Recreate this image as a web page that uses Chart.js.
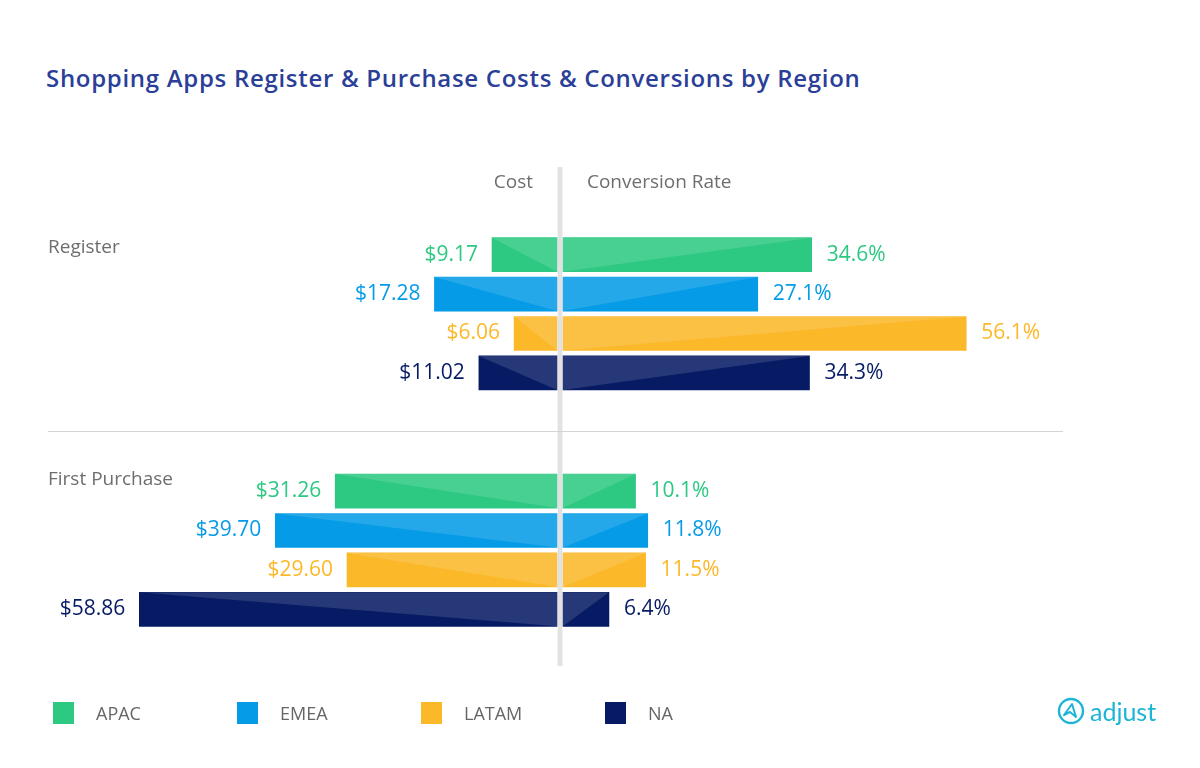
<!DOCTYPE html>
<html>
  <head>
    <title>Shopping Apps Register & Purchase Costs & Conversions by Region</title>
    <script src="https://cdn.jsdelivr.net/npm/chart.js@4.4.0/dist/chart.umd.min.js"></script>
    <style>
    body{
      margin: 0;
      background-color: white;
      font-family: "Open Sans", sans-serif;
    }
    #wrap{ position: relative; width: 1200px; height: 768px; overflow: hidden; }
    #butterfly{ position: absolute; left: 0; top: 0; }
    #title{
      position: absolute; left: 46px; top: 61px;
      font-size: 24px; font-weight: 600; letter-spacing: 0.7px; color: #2b3f99; white-space: nowrap;
    }
    #legend{ position: absolute; left: 53px; top: 701px; display: flex; }
    #legend .item{ width: 184px; display: flex; align-items: center; font-size: 18px; color: #666; }
    #legend .box{ width: 21px; height: 22px; margin-right: 22px; }
    #logo{
      position: absolute; left: 1057px; top: 696px; display: flex; align-items: center;
      color: #1cb5d5; font-family: Lato, sans-serif; font-size: 25px;
    }
    #logo svg{ margin-right: 5px; }
    </style>
  </head>
  <body>
    <div id="wrap">
      <div id="title">Shopping Apps Register &amp; Purchase Costs &amp; Conversions by Region</div>
      <canvas id="butterfly" width="1200" height="768"></canvas>
      <div id="legend"></div>
      <div id="logo">
        <svg width="28" height="28" viewBox="0 0 28 28">
          <circle cx="14" cy="14" r="12" fill="none" stroke="#1cb5d5" stroke-width="2.4"/>
          <path d="M7 18 L15 7 L19 20 L13 15 Z" fill="none" stroke="#1cb5d5" stroke-width="2" stroke-linejoin="round"/>
        </svg>
        <span>adjust</span>
      </div>
    </div>

  <script type="text/javascript">

  var regions = ["APAC", "EMEA", "LATAM", "NA"];
  var stages = ["Register", "First Purchase"];
  var sideTitles = ["Cost", "Conversion Rate"];
  var costRegister = [9.17, 17.28, 6.06, 11.02];
  var convRegister = [34.6, 27.1, 56.1, 34.3];
  var costPurchase = [31.26, 39.70, 29.60, 58.86];
  var convPurchase = [10.1, 11.8, 11.5, 6.4];
  var regionColors = ["#2dc882", "#059be6", "#fbb829", "#061b64"];

  // two empty rows separate the stages
  var rows = regions.map(function(r){ return stages[0] + " " + r; })
    .concat(["", " "])
    .concat(regions.map(function(r){ return stages[1] + " " + r; }));
  var costData = costRegister.map(function(v){ return -v; }).concat([null, null])
    .concat(costPurchase.map(function(v){ return -v; }));
  var convData = convRegister.concat([null, null]).concat(convPurchase);
  var barColors = regionColors.concat(["transparent", "transparent"]).concat(regionColors);

  // legend
  var legend = document.getElementById("legend");
  regions.forEach(function(r, i){
    var item = document.createElement("div");
    item.className = "item";
    item.innerHTML = '<span class="box" style="background:' + regionColors[i] + '"></span>' + r;
    legend.appendChild(item);
  });

  var butterflyPlugin = {
    id: "butterflyDecor",
    afterDatasetsDraw: function(chart){
      var ctx = chart.ctx;
      var area = chart.chartArea;
      var yScale = chart.scales.y;
      var zeroCost = chart.scales.xCost.getPixelForValue(0);
      var zeroConv = chart.scales.xConv.getPixelForValue(0);

      ctx.save();
      chart.data.datasets.forEach(function(ds, di){
        chart.getDatasetMeta(di).data.forEach(function(bar, i){
          if (ds.data[i] === null) return;
          var top = bar.y - bar.height / 2, bot = bar.y + bar.height / 2;
          // lighter diagonal triangle
          ctx.beginPath();
          if (di === 0) {
            ctx.moveTo(bar.x, top); ctx.lineTo(bar.base, top); ctx.lineTo(bar.base, bot);
          } else {
            ctx.moveTo(bar.base, top); ctx.lineTo(bar.x, top); ctx.lineTo(bar.base, bot);
          }
          ctx.closePath();
          ctx.fillStyle = "rgba(255,255,255,0.13)";
          ctx.fill();

          // value label
          ctx.font = '21px "Open Sans"';
          ctx.textBaseline = "middle";
          ctx.fillStyle = barColors[i];
          var v = Math.abs(ds.data[i]);
          if (di === 0) {
            ctx.textAlign = "right";
            ctx.fillText("$" + v.toFixed(2), bar.x - 14, bar.y);
          } else {
            ctx.textAlign = "left";
            ctx.fillText(v.toFixed(1) + "%", bar.x + 15, bar.y);
          }
        });
      });

      // centre axis strip
      var yTop = area.top - 68, yBot = area.bottom + 37;
      ctx.fillStyle = "#e2e2e2";
      ctx.fillRect(zeroCost + 0.5, yTop, zeroConv - zeroCost - 1, yBot - yTop);

      // side titles
      ctx.font = '19px "Open Sans"';
      ctx.fillStyle = "#6e6e6e";
      ctx.textBaseline = "middle";
      ctx.textAlign = "right";
      ctx.fillText(sideTitles[0], zeroCost - 24, area.top - 52);
      ctx.textAlign = "left";
      ctx.fillText(sideTitles[1], zeroConv + 24, area.top - 52);

      // stage labels
      ctx.fillText(stages[0], 48, yScale.getPixelForValue(0) - 7);
      ctx.fillText(stages[1], 48, yScale.getPixelForValue(6) - 12);

      // separator between stages
      var sepY = Math.round((yScale.getPixelForValue(4) + yScale.getPixelForValue(5)) / 2) - 0.5;
      ctx.strokeStyle = "#d4d4d4";
      ctx.lineWidth = 1;
      ctx.beginPath();
      ctx.moveTo(48, sepY);
      ctx.lineTo(1063, sepY);
      ctx.stroke();
      ctx.restore();
    }
  };

  var ctx = document.getElementById("butterfly").getContext("2d");
  new Chart(ctx, {
    type: "bar",
    data: {
      labels: rows,
      datasets: [{
        label: sideTitles[0],
        data: costData,
        xAxisID: "xCost",
        backgroundColor: barColors,
        barThickness: 34,
        stack: "s"
      }, {
        label: sideTitles[1],
        data: convData,
        xAxisID: "xConv",
        backgroundColor: barColors,
        barThickness: 34,
        stack: "s"
      }]
    },
    options: {
      indexAxis: "y",
      responsive: false,
      animation: false,
      layout: { padding: { left: 100, right: 200, top: 235, bottom: 139 } },
      plugins: { legend: { display: false }, tooltip: { enabled: false } },
      scales: {
        y: { type: "category", display: false, stacked: true, offset: true },
        xCost: { type: "linear", axis: "x", position: "bottom", display: false, min: -64.4, max: 62.4 },
        xConv: { type: "linear", axis: "x", position: "bottom", display: false, min: -64.4, max: 60.8 }
      }
    },
    plugins: [butterflyPlugin]
  });

  </script>
  </body>
</html>
